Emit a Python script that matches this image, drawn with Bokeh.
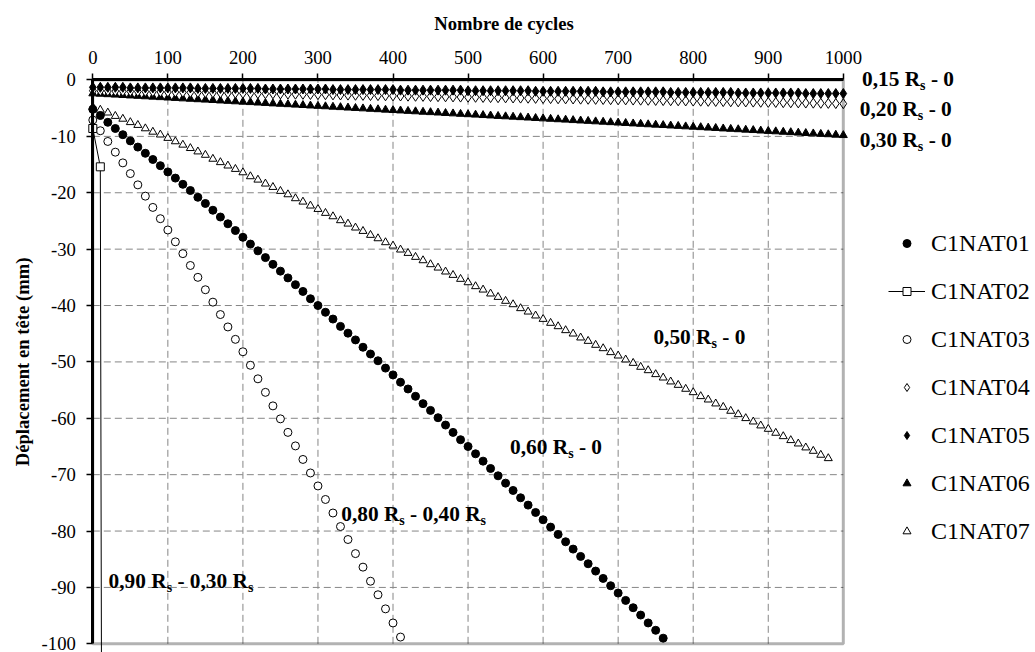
import math
from bokeh.plotting import figure
from bokeh.models import FixedTicker, Legend, LegendItem, Label, Range1d, LinearAxis, BoxAnnotation
from bokeh.embed import file_html
from bokeh.resources import INLINE

# ---------------- data ----------------
cycles_all = list(range(0, 1001, 10))

c1nat01 = [-5.2, -6.3, -7.5, -8.6, -9.7, -10.8, -11.9, -13.0, -14.1, -15.2,
           -16.3, -17.4, -18.5, -19.6, -20.8, -21.9, -23.1, -24.3, -25.5, -26.7,
           -27.9, -29.1, -30.3, -31.5, -32.7, -33.9, -35.1, -36.3, -37.5, -38.8,
           -40.0, -41.2, -42.4, -43.7, -44.9, -46.1, -47.4, -48.6, -49.8, -51.1,
           -52.3, -53.6, -54.8, -56.1, -57.4, -58.6, -59.9, -61.2, -62.5, -63.8,
           -65.0, -66.3, -67.6, -68.9, -70.2, -71.5, -72.8, -74.1, -75.4, -76.7,
           -78.0, -79.3, -80.6, -81.9, -83.2, -84.5, -85.8, -87.1, -88.4, -89.7,
           -91.0, -92.3, -93.6, -94.9, -96.3, -97.6, -99.0]

c1nat02_x = [0, 10, 20]
c1nat02 = [-8.6, -15.4, -600.0]

c1nat03 = [-7.1, -9.0, -10.9, -12.8, -14.7, -16.6, -18.6, -20.6, -22.6, -24.6,
           -26.6, -28.7, -30.8, -32.9, -35.0, -37.2, -39.4, -41.6, -43.8, -46.0,
           -48.2, -50.6, -53.0, -55.4, -57.8, -60.1, -62.5, -64.9, -67.3, -69.7,
           -72.0, -74.4, -76.8, -79.2, -81.5, -84.0, -86.4, -88.9, -91.3, -93.8,
           -96.3, -98.8]

c1nat04 = [-1.90, -1.92, -1.95, -1.97, -1.99, -2.02, -2.04, -2.06, -2.08, -2.11,
           -2.13, -2.15, -2.18, -2.20, -2.22, -2.25, -2.27, -2.29, -2.31, -2.34,
           -2.36, -2.38, -2.41, -2.43, -2.45, -2.48, -2.50, -2.52, -2.54, -2.57,
           -2.59, -2.61, -2.64, -2.66, -2.68, -2.71, -2.73, -2.75, -2.77, -2.80,
           -2.82, -2.84, -2.87, -2.89, -2.91, -2.94, -2.96, -2.98, -3.00, -3.03,
           -3.05, -3.07, -3.10, -3.12, -3.14, -3.17, -3.19, -3.21, -3.23, -3.26,
           -3.28, -3.30, -3.33, -3.35, -3.37, -3.40, -3.42, -3.44, -3.46, -3.49,
           -3.51, -3.53, -3.56, -3.58, -3.60, -3.63, -3.65, -3.67, -3.69, -3.72,
           -3.74, -3.76, -3.79, -3.81, -3.83, -3.86, -3.88, -3.90, -3.92, -3.95,
           -3.97, -3.99, -4.02, -4.04, -4.06, -4.09, -4.11, -4.13, -4.15, -4.18,
           -4.20]

c1nat05 = [-1.3, -1.3, -1.3, -1.3, -1.3, -1.4, -1.4, -1.4, -1.4, -1.4,
           -1.4, -1.4, -1.4, -1.4, -1.5, -1.5, -1.5, -1.5, -1.5, -1.5,
           -1.5, -1.5, -1.5, -1.6, -1.6, -1.6, -1.6, -1.6, -1.6, -1.6,
           -1.6, -1.6, -1.7, -1.7, -1.7, -1.7, -1.7, -1.7, -1.7, -1.7,
           -1.7, -1.8, -1.8, -1.8, -1.8, -1.8, -1.8, -1.8, -1.8, -1.8,
           -1.9, -1.9, -1.9, -1.9, -1.9, -1.9, -1.9, -1.9, -1.9, -2.0,
           -2.0, -2.0, -2.0, -2.0, -2.0, -2.0, -2.0, -2.0, -2.1, -2.1,
           -2.1, -2.1, -2.1, -2.1, -2.1, -2.1, -2.1, -2.2, -2.2, -2.2,
           -2.2, -2.2, -2.2, -2.2, -2.2, -2.2, -2.3, -2.3, -2.3, -2.3,
           -2.3, -2.3, -2.3, -2.3, -2.3, -2.4, -2.4, -2.4, -2.4, -2.4,
           -2.4]

c1nat06 = [-2.40, -2.47, -2.55, -2.62, -2.70, -2.77, -2.84, -2.92, -2.99, -3.07,
           -3.14, -3.21, -3.29, -3.36, -3.44, -3.51, -3.58, -3.66, -3.73, -3.81,
           -3.88, -3.95, -4.03, -4.10, -4.18, -4.25, -4.32, -4.40, -4.47, -4.55,
           -4.62, -4.69, -4.77, -4.84, -4.92, -4.99, -5.06, -5.14, -5.21, -5.29,
           -5.36, -5.43, -5.51, -5.58, -5.66, -5.73, -5.80, -5.88, -5.95, -6.03,
           -6.10, -6.17, -6.25, -6.32, -6.40, -6.47, -6.54, -6.62, -6.69, -6.77,
           -6.84, -6.91, -6.99, -7.06, -7.14, -7.21, -7.28, -7.36, -7.43, -7.51,
           -7.58, -7.65, -7.73, -7.80, -7.88, -7.95, -8.02, -8.10, -8.17, -8.25,
           -8.32, -8.39, -8.47, -8.54, -8.62, -8.69, -8.76, -8.84, -8.91, -8.99,
           -9.06, -9.13, -9.21, -9.28, -9.36, -9.43, -9.50, -9.58, -9.65, -9.73,
           -9.80]

c1nat07 = [-4.8, -5.3, -5.8, -6.4, -6.9, -7.5, -8.0, -8.6, -9.2, -9.7,
           -10.3, -10.9, -11.5, -12.1, -12.7, -13.3, -14.0, -14.6, -15.2, -15.8,
           -16.4, -17.1, -17.7, -18.4, -19.0, -19.7, -20.3, -21.0, -21.6, -22.3,
           -22.9, -23.6, -24.2, -24.9, -25.5, -26.2, -26.8, -27.5, -28.1, -28.8,
           -29.4, -30.1, -30.7, -31.4, -32.0, -32.7, -33.3, -34.0, -34.6, -35.3,
           -35.9, -36.6, -37.2, -37.9, -38.5, -39.2, -39.8, -40.5, -41.1, -41.8,
           -42.4, -43.1, -43.7, -44.4, -45.0, -45.7, -46.3, -47.0, -47.6, -48.3,
           -48.9, -49.6, -50.2, -50.9, -51.5, -52.2, -52.8, -53.5, -54.1, -54.8,
           -55.4, -56.1, -56.7, -57.4, -58.0, -58.7, -59.3, -60.0, -60.6, -61.3,
           -61.9, -62.6, -63.2, -63.9, -64.5, -65.2, -65.8, -66.5, -67.1]

x_ticks = [0, 100, 200, 300, 400, 500, 600, 700, 800, 900, 1000]
y_ticks = [0, -10, -20, -30, -40, -50, -60, -70, -80, -90, -100]

x_title = "Nombre de cycles"
y_title = "Déplacement en tête (mm)"

# annotation texts: (parts, x, y) ; parts alternate normal / subscript
annotations = [
    (["0,15 R", "s", " - 0"], 1025, 0.2),
    (["0,20 R", "s", " - 0"], 1022, -5.1),
    (["0,30 R", "s", " - 0"], 1022, -10.7),
    (["0,50 R", "s", " - 0"], 747, -45.6),
    (["0,60 R", "s", " - 0"], 556, -65.1),
    (["0,80 R", "s", " - 0,40 R", "s"], 331, -76.9),
    (["0,90 R", "s", " - 0,30 R", "s"], 21, -88.9),
]

# ---------------- geometry / styling ----------------
W, H = 1035, 652
XMIN, XMAX = -123.0, 1256.1       # whole canvas is the frame
YMIN, YMAX = -101.54, 14.10
SERIF = "Liberation Serif"
TICK_FS = "18.67px"
MAIN_FS = 21.33
SUB_FS = 14.0
BOLD_W = {"0": 500, "1": 500, "2": 500, "3": 500, "4": 500, "5": 500, "6": 500,
          "7": 500, "8": 500, "9": 500, ",": 250, " ": 250, "R": 722, "s": 389, "-": 333}


def text_w(t, fs):
    return sum(BOLD_W.get(ch, 500) for ch in t) / 1000.0 * fs


p = figure(width=W, height=H, x_range=Range1d(XMIN, XMAX), y_range=Range1d(YMIN, YMAX),
           x_axis_location=None, y_axis_location=None, output_backend="svg",
           toolbar_location=None, min_border=0)
p.background_fill_color = "white"
p.border_fill_color = "white"
p.outline_line_color = None
p.grid.visible = False

xax = LinearAxis(fixed_location=0, bounds=(x_ticks[0], x_ticks[-1]),
                 ticker=FixedTicker(ticks=x_ticks))
yax = LinearAxis(fixed_location=0, bounds=(y_ticks[-1], y_ticks[0]),
                 ticker=FixedTicker(ticks=y_ticks),
                 major_label_overrides={t: str(t) for t in y_ticks})
for ax in (xax, yax):
    ax.axis_line_width = 3
    ax.axis_line_color = "black"
    ax.major_tick_line_color = "black"
    ax.major_tick_line_width = 1.5
    ax.major_tick_out = 6
    ax.major_tick_in = 0
    ax.minor_tick_line_color = None
    ax.major_label_text_font = SERIF
    ax.major_label_text_font_size = TICK_FS
    ax.major_label_text_color = "black"
xax.major_label_standoff = 10
yax.major_label_standoff = 11

# dashed grid lines at the tick positions, inside the plot box
inner_x = x_ticks[1:-1]
inner_y = y_ticks[1:-1]
p.segment(x0=inner_x, y0=[y_ticks[-1]] * len(inner_x), x1=inner_x, y1=[y_ticks[0]] * len(inner_x),
          line_color="#868686", line_width=1, line_dash="7 4")
p.segment(x0=[x_ticks[0]] * len(inner_y), y0=inner_y, x1=[x_ticks[-1]] * len(inner_y), y1=inner_y,
          line_color="#868686", line_width=1, line_dash="7 4")

# ---------------- series ----------------
MS = 8
r06 = p.scatter(cycles_all, c1nat06, marker="triangle", size=MS, fill_color="black", line_color="black")
r04 = p.scatter(cycles_all, c1nat04, marker="diamond", size=10, fill_color="white", line_color="black")
r05 = p.scatter(cycles_all, c1nat05, marker="diamond", size=10, fill_color="black", line_color="black")
r07 = p.scatter(cycles_all[:len(c1nat07)], c1nat07, marker="triangle", size=MS,
                fill_color="white", line_color="black")
r03 = p.scatter(cycles_all[:len(c1nat03)], c1nat03, marker="circle", size=MS,
                fill_color="white", line_color="black")
r01 = p.scatter(cycles_all[:len(c1nat01)], c1nat01, marker="circle", size=MS,
                fill_color="black", line_color="black")
r02l = p.line(c1nat02_x, c1nat02, line_color="black", line_width=1)
r02s = p.scatter(c1nat02_x, c1nat02, marker="square", size=MS, fill_color="white", line_color="black")

# plot box (bottom / right thick border)
p.add_layout(BoxAnnotation(left=x_ticks[0], right=x_ticks[-1], bottom=y_ticks[-1], top=y_ticks[0],
                           fill_alpha=0, line_color="black", line_width=3))
p.add_layout(xax, "above")
p.add_layout(yax, "left")

legend = Legend(items=[
    LegendItem(label="C1NAT01", renderers=[r01]),
    LegendItem(label="C1NAT02", renderers=[r02l, r02s]),
    LegendItem(label="C1NAT03", renderers=[r03]),
    LegendItem(label="C1NAT04", renderers=[r04]),
    LegendItem(label="C1NAT05", renderers=[r05]),
    LegendItem(label="C1NAT06", renderers=[r06]),
    LegendItem(label="C1NAT07", renderers=[r07]),
], location=(888, 107), glyph_width=37, glyph_height=20, label_height=28, spacing=20,
    padding=0, margin=0, label_standoff=6, border_line_color=None,
    background_fill_alpha=0, label_text_font=SERIF, label_text_font_size="24px",
    label_text_color="black")
p.add_layout(legend)

# ---------------- text annotations ----------------
p.add_layout(Label(x=455, y=10, text=x_title, text_font=SERIF,
                   text_font_style="bold", text_font_size="18.67px",
                   text_baseline="middle", text_align="left", text_color="black"))
p.add_layout(Label(x=-93.5, y=-50, text=y_title, angle=math.pi / 2, text_font=SERIF,
                   text_font_style="bold", text_font_size="18.67px",
                   text_baseline="middle", text_align="center", text_color="black"))

for parts, ax_, ay_ in annotations:
    off = 0.0
    for i, part in enumerate(parts):
        sub = (i % 2 == 1)
        fs = SUB_FS if sub else MAIN_FS
        stripped = part.lstrip(" ")
        lead = text_w(part[:len(part) - len(stripped)], fs)
        p.add_layout(Label(x=ax_, y=ay_, text=stripped, x_offset=off + lead,
                           y_offset=-6.5 if sub else 0,
                           text_font=SERIF, text_font_style="bold",
                           text_font_size="%.2fpx" % fs, text_baseline="middle",
                           text_align="left", text_color="black"))
        off += text_w(part, fs)

open("out.html", "w").write(file_html(p, INLINE))
